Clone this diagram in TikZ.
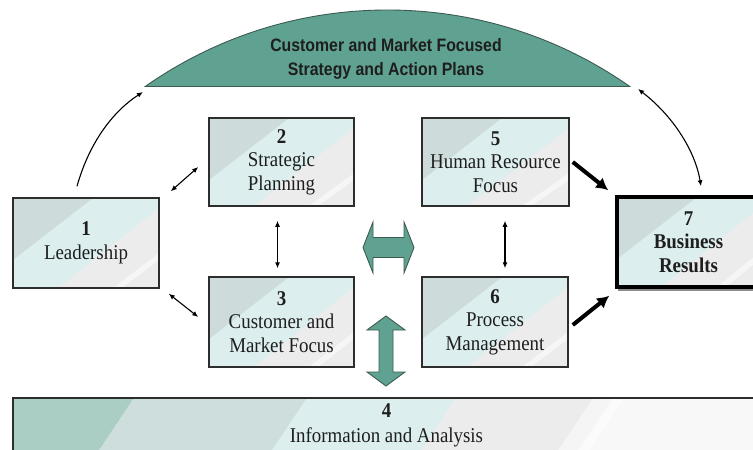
\documentclass[tikz,border=0pt]{standalone}
\usepackage{fontspec}
\setmainfont{Liberation Serif}[FakeStretch=0.9]
\newfontfamily\headfont{Liberation Sans}[FakeStretch=0.88]
\usetikzlibrary{calc,shadows,arrows.meta}

\definecolor{domefill}{RGB}{96,162,145}
\definecolor{domeline}{RGB}{60,90,80}
\definecolor{boxline}{RGB}{45,45,45}
\definecolor{bandD}{RGB}{205,220,219}
\definecolor{bandM}{RGB}{220,238,238}
\definecolor{bandL}{RGB}{236,236,236}
\definecolor{infoA}{RGB}{170,206,196}
\definecolor{infoB}{RGB}{205,222,220}
\definecolor{infoC}{RGB}{220,238,238}
\definecolor{infoD}{RGB}{236,236,236}
\definecolor{infoE}{RGB}{248,248,248}
\definecolor{textc}{RGB}{30,30,30}

% diagonal colour bands of the small panels
\newcommand\panelbands{%
  \fill[bandD] (path picture bounding box.north west) -- ++(80,0) -- ++(-80,62) -- cycle;
  \fill[bandL] ($(path picture bounding box.south west)+(45,0)$)
     -- ($(path picture bounding box.north east)+(0,10)$)
     -- (path picture bounding box.south east) -- cycle;
  \fill[white,opacity=.55] ($(path picture bounding box.south west)+(100,0)$)
     -- ($(path picture bounding box.north east)+(0,55)$)
     -- ($(path picture bounding box.north east)+(0,62)$)
     -- ($(path picture bounding box.south west)+(109,0)$) -- cycle;
}
% colour bands of the wide bottom panel
\newcommand\infobands{%
  \coordinate (ibNW) at (path picture bounding box.north west);
  \fill[infoA] (ibNW) -- ($(ibNW)+(121,0)$) -- ($(ibNW)+(81,60)$) -- ($(ibNW)+(0,60)$) -- cycle;
  \fill[infoB] ($(ibNW)+(121,0)$) -- ($(ibNW)+(294,0)$) -- ($(ibNW)+(254,60)$) -- ($(ibNW)+(81,60)$) -- cycle;
  \fill[infoC] ($(ibNW)+(294,0)$) -- ($(ibNW)+(443,0)$) -- ($(ibNW)+(403,60)$) -- ($(ibNW)+(254,60)$) -- cycle;
  \fill[infoD] ($(ibNW)+(443,0)$) -- ($(ibNW)+(600,0)$) -- ($(ibNW)+(560,60)$) -- ($(ibNW)+(403,60)$) -- cycle;
  \fill[white,opacity=.5] ($(ibNW)+(580,0)$) -- ($(ibNW)+(611,0)$) -- ($(ibNW)+(571,60)$) -- ($(ibNW)+(540,60)$) -- cycle;
}

\begin{document}
\begin{tikzpicture}[x=1pt,y=-1pt,
  panel/.style={draw=boxline, line width=1.5pt, fill=bandM, inner sep=0pt,
    align=center, text=textc, font=\fontsize{21}{23.5}\selectfont,
    path picture={\panelbands}},
  infopanel/.style={draw=boxline, line width=1.5pt, fill=infoE, inner sep=0pt,
    align=center, text=textc, font=\fontsize{21}{25}\selectfont,
    path picture={\infobands}},
  resultpanel/.style={panel, draw=black, line width=3.5pt,
    drop shadow={shadow xshift=1pt, shadow yshift=-4pt, opacity=.45, fill=black}},
  thinlink/.style={line width=1.1pt, draw=black,
    {Latex[length=6pt,width=5pt]}-{Latex[length=6pt,width=5pt]}},
  thinone/.style={line width=1.1pt, draw=black, -{Latex[length=6pt,width=5pt]}},
  thicklink/.style={line width=4pt, draw=black, -{Latex[length=12pt,width=13pt]}},
  bigarrow/.style={fill=domefill, draw=domeline, line width=0.9pt, line join=miter},
  headtext/.style={font=\headfont\bfseries\fontsize{18}{23.5}\selectfont, text=textc, align=center}
]
\useasboundingbox (0,0) rectangle (753,450);

% dome of the strategy and action plans
\begin{scope}
  \clip (0,0) rectangle (753,86);
  \filldraw[fill=domefill, draw=domeline, line width=0.9pt] (387.5,431.7) circle[radius=421.7];
\end{scope}
\coordinate (domeL) at (146,86);
\coordinate (domeR) at (629,86);
\draw[domeline, line width=0.9pt] (domeL) -- (domeR);
\node[headtext] (plans) at (386,59) {Customer and Market Focused\\Strategy and Action Plans};

% category panels
\node[panel, minimum width=146pt, minimum height=90pt] (lead) at (86,243)
  {\textbf{1}\\Leadership};
\node[panel, minimum width=145pt, minimum height=88pt] (strat) at (281.5,162)
  {\textbf{2}\\Strategic\\Planning};
\node[panel, minimum width=145pt, minimum height=90pt] (cust) at (281.5,322)
  {\textbf{3}\\Customer and\\Market Focus};
\node[panel, minimum width=147pt, minimum height=88pt] (hr) at (495.5,162)
  {\textbf{5}\\Human Resource\\Focus};
\node[panel, minimum width=146pt, minimum height=90pt] (proc) at (495,322)
  {\textbf{6}\\Process\\Management};
\node[resultpanel, minimum width=143pt, minimum height=90pt] (res) at (688.5,242)
  {\textbf{7}\\\textbf{Business}\\\textbf{Results}};
\node[infopanel, minimum width=747pt, minimum height=54pt] (info) at (386.5,425)
  {\textbf{4}\\Information and Analysis};

% thin links
\coordinate (leadTop) at ($(lead.north)+(-9,-11)$);
\coordinate (domeLa) at ($(domeL)+(-3,6)$);
\draw[thinone] (leadTop) .. controls (90,140) and (115,110) .. (domeLa);
\coordinate (domeRa) at ($(domeR)+(9,3)$);
\coordinate (resTop) at ($(res.north)+(12.5,-9)$);
\draw[thinlink] (domeRa) .. controls (672,115) and (695,150) .. (resTop);

\draw[thinlink] ($(lead.north east)+(11,-6)$) -- ($(strat.west)+(-10,5)$);
\draw[thinlink] ($(lead.south east)+(9,5)$) -- ($(cust.west)+(-10,-5)$);
\draw[thinlink] ($(strat.south)+(-4,14)$) -- ($(cust.north)+(-4,-8)$);
\draw[thinlink] ($(hr.south)+(9.5,14)$) -- ($(proc.north)+(10,-8)$);

% heavy links into the results
\draw[thicklink] ($(hr.east)+(3,0)$) -- ($(res.north west)+(-7,-5)$);
\draw[thicklink] ($(proc.east)+(4,3)$) -- ($(res.south west)+(-6,7)$);

% broad two-way arrows
\coordinate (hmid) at (388.5,247.5);
\draw[bigarrow] ($(hmid)+(-25.5,0)$) -- ($(hmid)+(-15.5,-25.5)$) -- ($(hmid)+(-15.5,-10)$)
  -- ($(hmid)+(15.5,-10)$) -- ($(hmid)+(15.5,-25.5)$) -- ($(hmid)+(25.5,0)$)
  -- ($(hmid)+(15.5,25.5)$) -- ($(hmid)+(15.5,10)$) -- ($(hmid)+(-15.5,10)$)
  -- ($(hmid)+(-15.5,25.5)$) -- cycle;
\coordinate (vmid) at (386,351);
\draw[bigarrow] ($(vmid)+(0,-35)$) -- ($(vmid)+(19,-21)$) -- ($(vmid)+(7,-21)$)
  -- ($(vmid)+(7,21)$) -- ($(vmid)+(19,21)$) -- ($(vmid)+(0,35)$)
  -- ($(vmid)+(-19,21)$) -- ($(vmid)+(-7,21)$) -- ($(vmid)+(-7,-21)$)
  -- ($(vmid)+(-19,-21)$) -- cycle;
\end{tikzpicture}
\end{document}
